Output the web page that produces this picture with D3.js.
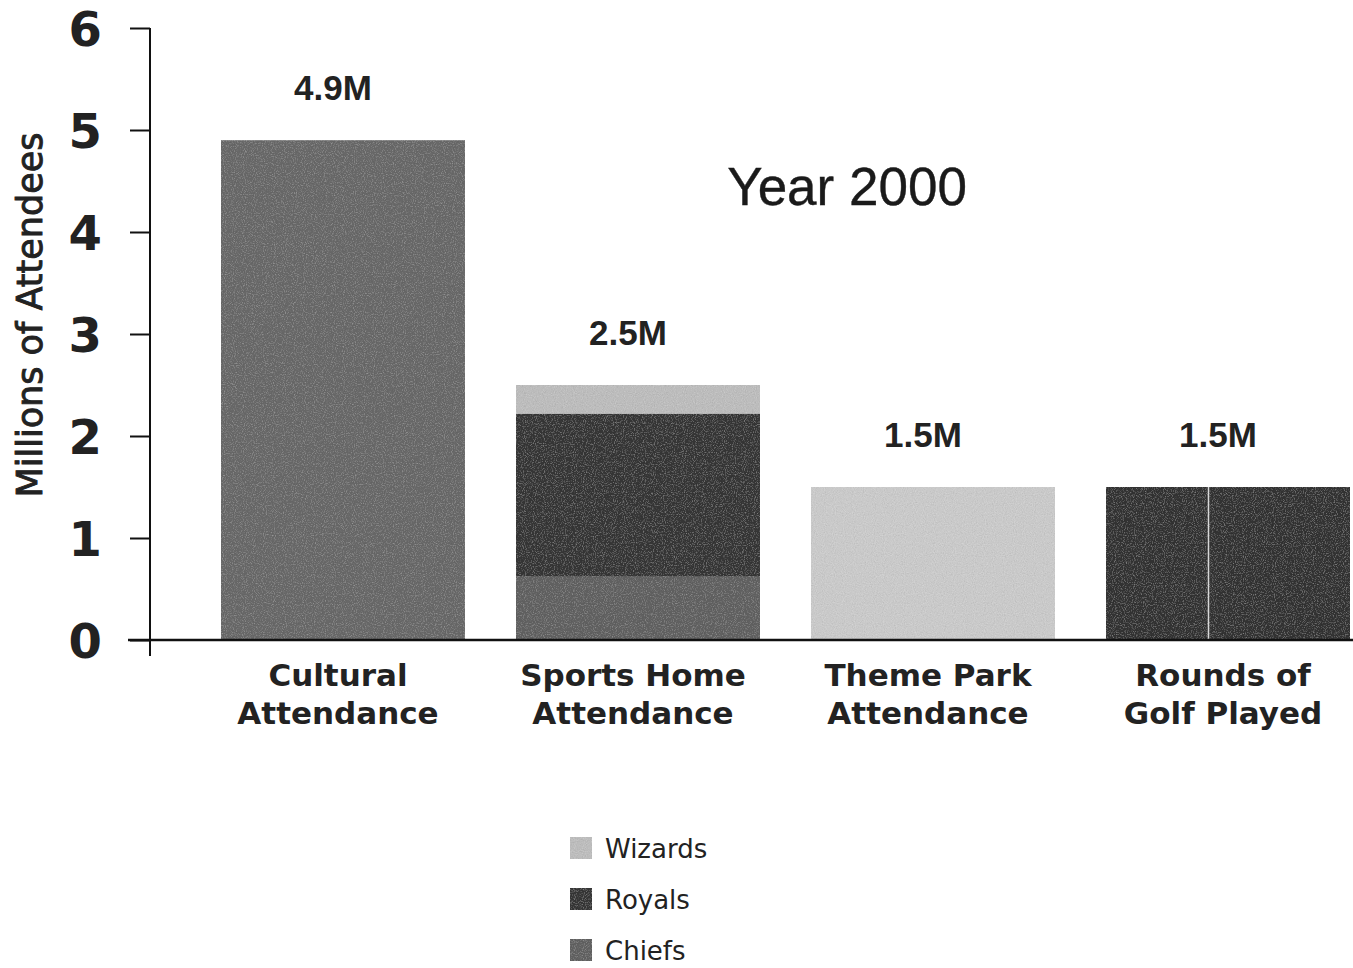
<!DOCTYPE html>
<html>
<head>
<meta charset="utf-8">
<script src="https://cdn.jsdelivr.net/npm/d3@7"></script>
<style>
  html, body { margin: 0; padding: 0; background: #fff; }
  svg { display: block; }
</style>
</head>
<body>
<svg id="chart" width="1353" height="968"></svg>
<script>
// Attendance figures, millions of people, year 2000
const categories = ["Cultural Attendance", "Sports Home Attendance", "Theme Park Attendance", "Rounds of Golf Played"];
const categoryLines = [["Cultural", "Attendance"], ["Sports Home", "Attendance"], ["Theme Park", "Attendance"], ["Rounds of", "Golf Played"]];
const totals = [4.9, 2.5, 1.5, 1.5];
const totalLabels = ["4.9M", "2.5M", "1.5M", "1.5M"];

// Sports home attendance split by team (stacked bottom to top)
const teams = ["Chiefs", "Royals", "Wizards"];
const teamValues = [0.62, 1.6, 0.28];

const legendOrder = ["Wizards", "Royals", "Chiefs"];
const yTicks = [0, 1, 2, 3, 4, 5, 6];

const teamColor = { Chiefs: "#606060", Royals: "#353535", Wizards: "#bcbcbc" };
const barColor = ["#686868", null, "#c9c9c9", "#303030"];

const svg = d3.select("#chart");
const defs = svg.append("defs");

// photocopy grain for the filled areas: light and dark specks over the fill
const grain = defs.append("filter").attr("id", "grain")
  .attr("x", 0).attr("y", 0).attr("width", 1).attr("height", 1);
grain.append("feTurbulence").attr("type", "fractalNoise")
  .attr("baseFrequency", 0.9).attr("numOctaves", 2).attr("seed", 3).attr("result", "noise");
grain.append("feColorMatrix").attr("in", "noise").attr("type", "matrix")
  .attr("values", "0 0 0 0 1  0 0 0 0 1  0 0 0 0 1  1.6 0 0 0 -0.8")
  .attr("result", "lightSpeck");
grain.append("feColorMatrix").attr("in", "noise").attr("type", "matrix")
  .attr("values", "0 0 0 0 0  0 0 0 0 0  0 0 0 0 0  -1.6 0 0 0 0.75")
  .attr("result", "darkSpeck");
grain.append("feComposite").attr("in", "lightSpeck").attr("in2", "SourceGraphic")
  .attr("operator", "in").attr("result", "lightIn");
grain.append("feComposite").attr("in", "darkSpeck").attr("in2", "SourceGraphic")
  .attr("operator", "in").attr("result", "darkIn");
grain.append("feComponentTransfer").attr("in", "lightIn").attr("result", "lightSoft")
  .append("feFuncA").attr("type", "linear").attr("slope", 0.3);
grain.append("feComponentTransfer").attr("in", "darkIn").attr("result", "darkSoft")
  .append("feFuncA").attr("type", "linear").attr("slope", 0.25);
grain.append("feMerge").call(m => {
  m.append("feMergeNode").attr("in", "SourceGraphic");
  m.append("feMergeNode").attr("in", "lightSoft");
  m.append("feMergeNode").attr("in", "darkSoft");
});

const y = d3.scaleLinear().domain([0, 6]).range([640, 28]);
const x = d3.scaleBand().domain(categories)
  .range([191.5, 1379.5]).paddingInner(0.173).paddingOuter(0.1);

// single-value bars
const single = categories.map((c, i) => ({ c, v: totals[i], color: barColor[i] }))
  .filter(d => d.color);
svg.append("g").selectAll("rect").data(single).join("rect")
  .attr("x", d => x(d.c))
  .attr("y", d => y(d.v))
  .attr("width", x.bandwidth())
  .attr("height", d => y(0) - y(d.v))
  .attr("fill", d => d.color)
  .attr("filter", "url(#grain)");

// stacked sports bar
const stackRow = {};
teams.forEach((t, i) => stackRow[t] = teamValues[i]);
const stacked = d3.stack().keys(teams)([stackRow]);
svg.append("g").selectAll("rect").data(stacked).join("rect")
  .attr("x", x(categories[1]))
  .attr("y", d => y(d[0][1]))
  .attr("width", x.bandwidth())
  .attr("height", d => y(d[0][0]) - y(d[0][1]))
  .attr("fill", d => teamColor[d.key])
  .attr("filter", "url(#grain)");

// faint seam in the golf bar
svg.append("line")
  .attr("x1", x(categories[3]) + x.bandwidth() * 0.42)
  .attr("x2", x(categories[3]) + x.bandwidth() * 0.42)
  .attr("y1", y(totals[3])).attr("y2", y(0))
  .attr("stroke", "#d8d8d8").attr("stroke-width", 1.5);

// value labels
svg.append("g").selectAll("text").data(categories).join("text")
  .attr("x", (d) => x(d) + x.bandwidth() / 2 - 10)
  .attr("y", (d, i) => y(totals[i]) - 40)
  .attr("text-anchor", "middle")
  .attr("font-family", "'Liberation Sans', Arial, sans-serif")
  .attr("font-weight", "bold")
  .attr("font-size", 35)
  .attr("fill", "#222")
  .text((d, i) => totalLabels[i]);

// y axis
const yAxis = svg.append("g").attr("transform", "translate(150,0)")
  .call(d3.axisLeft(y).tickValues(yTicks).tickFormat(d3.format("d")).tickSize(20).tickPadding(28));
yAxis.select(".domain").attr("d", `M0,${y(6)}V${y(0) + 16}`).attr("stroke", "#111").attr("stroke-width", 2);
yAxis.selectAll(".tick line").attr("stroke", "#111").attr("stroke-width", 2);
yAxis.selectAll(".tick text")
  .attr("font-family", "'DejaVu Sans', Verdana, sans-serif")
  .attr("font-weight", "bold")
  .attr("font-size", 48)
  .attr("fill", "#222")
  .attr("dy", "0.36em");

// x axis baseline
svg.append("line")
  .attr("x1", 128).attr("x2", 1353)
  .attr("y1", y(0)).attr("y2", y(0))
  .attr("stroke", "#111").attr("stroke-width", 2.5);

// category labels
const cat = svg.append("g").selectAll("text").data(categories).join("text")
  .attr("x", d => x(d) + x.bandwidth() / 2 - 5)
  .attr("y", 686)
  .attr("text-anchor", "middle")
  .attr("font-family", "'DejaVu Sans', Verdana, sans-serif")
  .attr("font-weight", "bold")
  .attr("font-size", 31)
  .attr("fill", "#222");
cat.selectAll("tspan").data((d, i) => categoryLines[i]).join("tspan")
  .attr("x", function () { return d3.select(this.parentNode).attr("x"); })
  .attr("dy", (d, j) => j === 0 ? 0 : 38)
  .text(d => d);

// axis title
svg.append("text")
  .attr("transform", `translate(42,${315}) rotate(-90)`)
  .attr("text-anchor", "middle")
  .attr("font-family", "'DejaVu Sans', Verdana, sans-serif")
  .attr("font-size", 35)
  .attr("fill", "#222")
  .attr("stroke", "#222")
  .attr("stroke-width", 0.9)
  .text("Millions of Attendees");

// chart title
svg.append("text")
  .attr("x", 847).attr("y", 205)
  .attr("text-anchor", "middle")
  .attr("font-family", "'Liberation Sans', Arial, sans-serif")
  .attr("font-size", 53)
  .attr("fill", "#1a1a1a")
  .attr("stroke", "#1a1a1a")
  .attr("stroke-width", 0.4)
  .text("Year 2000");

// legend
const legend = svg.append("g").selectAll("g").data(legendOrder).join("g")
  .attr("transform", (d, i) => `translate(570,${837 + i * 51})`);
legend.append("rect")
  .attr("width", 22).attr("height", 22)
  .attr("fill", d => teamColor[d])
  .attr("filter", "url(#grain)");
legend.append("text")
  .attr("x", 35).attr("y", 21)
  .attr("font-family", "'DejaVu Sans', Verdana, sans-serif")
  .attr("font-size", 26)
  .attr("fill", "#222")
  .text(d => d);
</script>
</body>
</html>
